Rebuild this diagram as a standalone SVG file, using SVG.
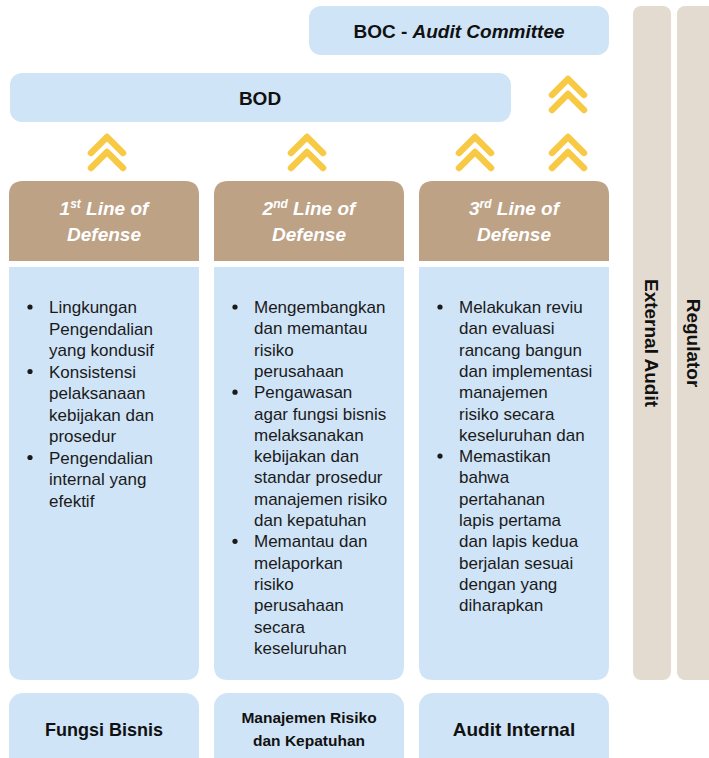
<svg xmlns="http://www.w3.org/2000/svg" width="709" height="758" viewBox="0 0 709 758">
<style>
.blue{fill:#d0e4f7}
.tan{fill:#bda286}
.side{fill:#e4dbd0}
.hd{font-family:"Liberation Sans",Arial,sans-serif;font-weight:bold;fill:#111}
.lod{font-family:"Liberation Sans",Arial,sans-serif;font-weight:bold;font-style:italic;font-size:19px;fill:#fff;text-anchor:middle}
.body{font-family:"Liberation Sans",Arial,sans-serif;font-size:17px;fill:#1a1a1a}
.bul{fill:#1a1a1a}
.chev{fill:none;stroke:#f8c944;stroke-width:6.5;stroke-linecap:round;stroke-linejoin:round}
</style>
<defs>
<g id="chev"><path class="chev" d="M-16,153 L0,137 L16,153 M-16,168 L0,152 L16,168"/></g>
</defs>
<rect width="709" height="758" fill="#fff"/>

<g id="external-audit">
<rect class="side" x="633" y="6" width="38" height="674" rx="8"/>
<text class="hd" font-size="19" text-anchor="middle" transform="translate(652,343) rotate(90)" y="7">External Audit</text>
</g>
<g id="regulator">
<rect class="side" x="677" y="6" width="44" height="674" rx="8"/>
<text class="hd" font-size="19" text-anchor="middle" transform="translate(694,343) rotate(90)" y="7">Regulator</text>
</g>

<g id="boc">
<rect class="blue" x="309" y="6" width="300" height="49" rx="12"/>
<text class="hd" font-size="19" x="459" y="38" text-anchor="middle">BOC - <tspan font-style="italic">Audit Committee</tspan></text>
</g>

<g id="bod">
<rect class="blue" x="10" y="73" width="501" height="49" rx="12"/>
<text class="hd" font-size="19" x="260" y="105" text-anchor="middle">BOD</text>
</g>

<g id="connectors">
<use href="#chev" x="107" y="0"/>
<use href="#chev" x="307" y="0"/>
<use href="#chev" x="475" y="0"/>
<use href="#chev" x="568" y="0"/>
<use href="#chev" x="568" y="-58"/>
</g>

<g id="line1">
<path class="tan" d="M9,261 V195 Q9,181 23,181 H185 Q199,181 199,195 V261 Z"/>
<text class="lod" x="104" y="215">1<tspan font-size="12" dy="-7">st</tspan><tspan dy="7"> Line of</tspan></text>
<text class="lod" x="104" y="241">Defense</text>
<path class="blue" d="M9,267 H199 V666 Q199,680 185,680 H23 Q9,680 9,666 Z"/>
<g class="body">
<text x="49" y="313">Lingkungan</text>
<text x="49" y="334.5">Pengendalian</text>
<text x="49" y="356">yang kondusif</text>
<text x="49" y="377.5">Konsistensi</text>
<text x="49" y="399">pelaksanaan</text>
<text x="49" y="420.5">kebijakan dan</text>
<text x="49" y="442">prosedur</text>
<text x="49" y="463.5">Pengendalian</text>
<text x="49" y="485">internal yang</text>
<text x="49" y="506.5">efektif</text>
</g>
<circle class="bul" cx="30" cy="307" r="2.6"/>
<circle class="bul" cx="30" cy="371.5" r="2.6"/>
<circle class="bul" cx="30" cy="457.5" r="2.6"/>
</g>

<g id="line2">
<path class="tan" d="M214,261 V195 Q214,181 228,181 H390 Q404,181 404,195 V261 Z"/>
<text class="lod" x="309" y="215">2<tspan font-size="12" dy="-7">nd</tspan><tspan dy="7"> Line of</tspan></text>
<text class="lod" x="309" y="241">Defense</text>
<path class="blue" d="M214,267 H404 V666 Q404,680 390,680 H228 Q214,680 214,666 Z"/>
<g class="body">
<text x="254" y="313">Mengembangkan</text>
<text x="254" y="334.3">dan memantau</text>
<text x="254" y="355.6">risiko</text>
<text x="254" y="376.9">perusahaan</text>
<text x="254" y="398.2">Pengawasan</text>
<text x="254" y="419.5">agar fungsi bisnis</text>
<text x="254" y="440.8">melaksanakan</text>
<text x="254" y="462.1">kebijakan dan</text>
<text x="254" y="483.4">standar prosedur</text>
<text x="254" y="504.7">manajemen risiko</text>
<text x="254" y="526">dan kepatuhan</text>
<text x="254" y="547.3">Memantau dan</text>
<text x="254" y="568.6">melaporkan</text>
<text x="254" y="589.9">risiko</text>
<text x="254" y="611.2">perusahaan</text>
<text x="254" y="632.5">secara</text>
<text x="254" y="653.8">keseluruhan</text>
</g>
<circle class="bul" cx="235" cy="307" r="2.6"/>
<circle class="bul" cx="235" cy="392.2" r="2.6"/>
<circle class="bul" cx="235" cy="541.3" r="2.6"/>
</g>

<g id="line3">
<path class="tan" d="M419,261 V195 Q419,181 433,181 H595 Q609,181 609,195 V261 Z"/>
<text class="lod" x="514" y="215">3<tspan font-size="12" dy="-7">rd</tspan><tspan dy="7"> Line of</tspan></text>
<text class="lod" x="514" y="241">Defense</text>
<path class="blue" d="M419,267 H609 V666 Q609,680 595,680 H433 Q419,680 419,666 Z"/>
<g class="body">
<text x="459" y="313">Melakukan reviu</text>
<text x="459" y="334.3">dan evaluasi</text>
<text x="459" y="355.6">rancang bangun</text>
<text x="459" y="376.9">dan implementasi</text>
<text x="459" y="398.2">manajemen</text>
<text x="459" y="419.5">risiko secara</text>
<text x="459" y="440.8">keseluruhan dan</text>
<text x="459" y="462.1">Memastikan</text>
<text x="459" y="483.4">bahwa</text>
<text x="459" y="504.7">pertahanan</text>
<text x="459" y="526">lapis pertama</text>
<text x="459" y="547.3">dan lapis kedua</text>
<text x="459" y="568.6">berjalan sesuai</text>
<text x="459" y="589.9">dengan yang</text>
<text x="459" y="611.2">diharapkan</text>
</g>
<circle class="bul" cx="440" cy="307" r="2.6"/>
<circle class="bul" cx="440" cy="456.1" r="2.6"/>
</g>

<g id="fungsi-bisnis">
<rect class="blue" x="9" y="693" width="190" height="80" rx="14"/>
<text class="hd" font-size="18" x="104" y="736" text-anchor="middle">Fungsi Bisnis</text>
</g>
<g id="manajemen-risiko">
<rect class="blue" x="214" y="693" width="190" height="80" rx="14"/>
<text class="hd" font-size="15.5" x="309" y="723" text-anchor="middle">Manajemen Risiko</text>
<text class="hd" font-size="15.5" x="309" y="746" text-anchor="middle">dan Kepatuhan</text>
</g>
<g id="audit-internal">
<rect class="blue" x="419" y="693" width="190" height="80" rx="14"/>
<text class="hd" font-size="19" x="514" y="736" text-anchor="middle">Audit Internal</text>
</g>
</svg>
